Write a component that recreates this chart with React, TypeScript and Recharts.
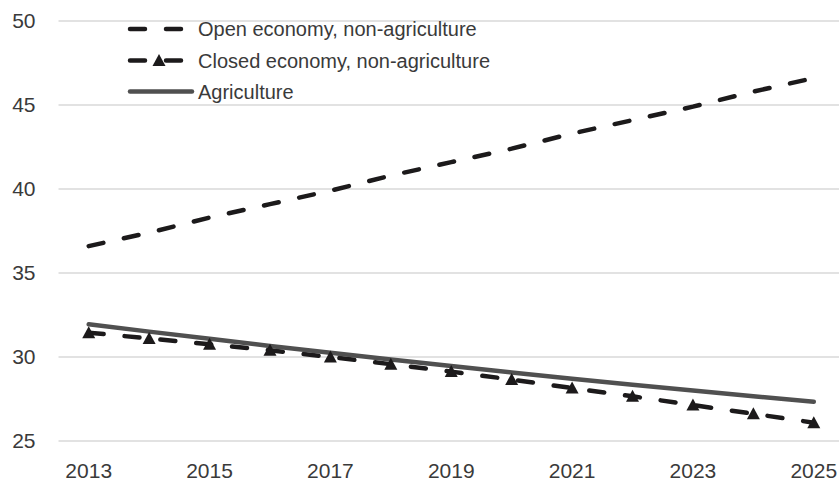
import React from 'react';
import { LineChart, Line, XAxis, YAxis, CartesianGrid, Legend } from 'recharts';

const years = [2013, 2014, 2015, 2016, 2017, 2018, 2019, 2020, 2021, 2022, 2023, 2024, 2025];
const openNonAgri = [36.6, 37.4, 38.3, 39.1, 39.9, 40.8, 41.6, 42.4, 43.3, 44.1, 44.9, 45.8, 46.6];
const closedNonAgri = [31.45, 31.1, 30.76, 30.4, 30.0, 29.57, 29.13, 28.66, 28.15, 27.66, 27.14, 26.62, 26.09];
const agriculture = [31.95, 31.51, 31.08, 30.66, 30.25, 29.85, 29.46, 29.08, 28.71, 28.35, 28.0, 27.66, 27.33];
const xTicks = [2013, 2015, 2017, 2019, 2021, 2023, 2025];
const yTicks = [25, 30, 35, 40, 45, 50];
const seriesNames = ['Open economy, non-agriculture', 'Closed economy, non-agriculture', 'Agriculture'];

const data = years.map((year, i) => ({
  year,
  open: openNonAgri[i],
  closed: closedNonAgri[i],
  agri: agriculture[i],
}));

const FONT = '"Liberation Sans", Arial, sans-serif';
const BLACK = '#1c1a1b';
const GRAY = '#505050';
const TEXT = '#3a3a3a';

const Triangle = (props: any) => {
  const { cx, cy, index } = props;
  if (cx == null || cy == null) return null;
  return (
    <path
      key={`tri-${index}`}
      d={`M${cx},${cy - 6.5} L${cx + 6.5},${cy + 5.5} L${cx - 6.5},${cy + 5.5} Z`}
      fill={BLACK}
    />
  );
};

const LegendContent = () => {
  const rows = [29, 60.5, 91.5];
  return (
    <svg width={600} height={110} style={{ display: 'block' }}>
      <line x1={130} x2={183} y1={rows[0]} y2={rows[0]} stroke={BLACK} strokeWidth={4.5} strokeLinecap="round" strokeDasharray="15 21" />
      <line x1={130} x2={183} y1={rows[1]} y2={rows[1]} stroke={BLACK} strokeWidth={4.5} strokeLinecap="round" strokeDasharray="15 21" />
      <path d={`M159,${rows[1] - 6.5} L165.5,${rows[1] + 5.5} L152.5,${rows[1] + 5.5} Z`} fill={BLACK} />
      <line x1={130} x2={192} y1={rows[2]} y2={rows[2]} stroke={GRAY} strokeWidth={4.5} strokeLinecap="round" />
      {seriesNames.map((n, i) => (
        <text key={n} x={198} y={rows[i] + 7.3} fontSize={20} fontFamily={FONT} fill={TEXT}>
          {n}
        </text>
      ))}
    </svg>
  );
};

export default function App() {
  return (
    <div style={{ position: 'absolute', left: 0, top: 0, width: 839, height: 482, overflow: 'hidden', background: '#fff' }}>
      <LineChart width={846} height={482} data={data} margin={{ top: 21, right: 2, bottom: 11, left: 0 }}>
        <CartesianGrid vertical={false} stroke="#d9d9d9" strokeWidth={1.3} />
        <XAxis
          dataKey="year"
          type="number"
          domain={[2012.5, 2025.5]}
          ticks={xTicks}
          axisLine={false}
          tickLine={false}
          tickSize={0}
          tickMargin={22}
          height={30}
          tick={{ fill: TEXT, fontSize: 21, fontFamily: FONT }}
          interval={0}
        />
        <YAxis
          type="number"
          domain={[25, 50]}
          ticks={yTicks}
          axisLine={false}
          tickLine={false}
          tickSize={0}
          tickMargin={23}
          width={58.5}
          tick={{ fill: TEXT, fontSize: 21, fontFamily: FONT }}
          interval={0}
        />
        <Legend
          layout="vertical"
          align="center"
          verticalAlign="middle"
          wrapperStyle={{ left: 0, top: 0, width: 600, height: 110 }}
          content={<LegendContent />}
        />
        <Line
          dataKey="open"
          name={seriesNames[0]}
          stroke={BLACK}
          strokeWidth={4.5}
          strokeDasharray="15 21"
          strokeLinecap="round"
          dot={false}
          activeDot={false}
          isAnimationActive={false}
        />
        <Line
          dataKey="closed"
          name={seriesNames[1]}
          stroke={BLACK}
          strokeWidth={4.5}
          strokeDasharray="15 21"
          strokeLinecap="round"
          dot={<Triangle />}
          activeDot={false}
          isAnimationActive={false}
        />
        <Line
          dataKey="agri"
          name={seriesNames[2]}
          stroke={GRAY}
          strokeWidth={4.5}
          strokeLinecap="round"
          dot={false}
          activeDot={false}
          isAnimationActive={false}
        />
      </LineChart>
    </div>
  );
}
